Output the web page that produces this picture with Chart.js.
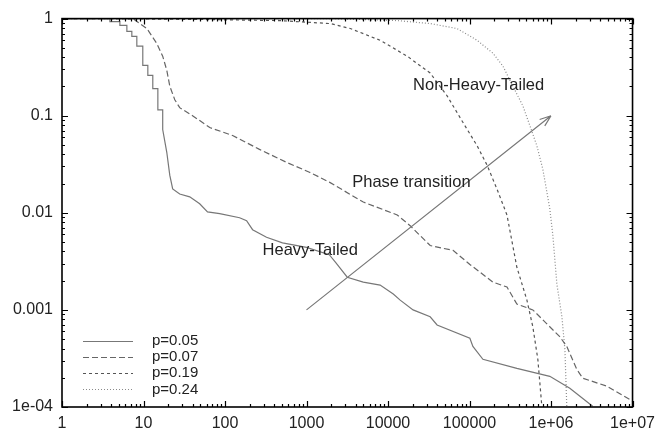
<!DOCTYPE html>
<html>
<head>
<meta charset="utf-8">
<script src="https://cdn.jsdelivr.net/npm/chart.js@4.4.0/dist/chart.umd.min.js"></script>
<style>
  html, body { margin: 0; padding: 0; background: #fff; }
  #wrap { width: 662px; height: 432px; }
</style>
</head>
<body>
<div id="wrap"><canvas id="chart1" width="662" height="432"></canvas></div>
<script>
// tick labels
var xTickValues = [1, 10, 100, 1000, 10000, 100000, 1e6, 1e7];
var xTickLabels = ["1", "10", "100", "1000", "10000", "100000", "1e+06", "1e+07"];
var yTickValues = [1e-4, 0.001, 0.01, 0.1, 1];
var yTickLabels = ["1e-04", "0.001", "0.01", "0.1", "1"];

var seriesNames = ["p=0.05", "p=0.07", "p=0.19", "p=0.24"];

// p=0.05 (staircase at the top)
var p05X = [1, 3.87, 3.87, 5.13, 5.13, 6.25, 6.25, 7.19, 7.19, 8.28, 8.28, 9.8, 9.8, 11.3, 11.3, 13, 13, 15, 15, 17.2, 17.2, 19.3, 21, 22.8, 27.8, 36.9, 48.9, 61, 86, 151, 184, 218, 323, 507, 1000, 1900, 2260, 3160, 4970, 8000, 11600, 14100, 20300, 32900, 40000, 101000, 110000, 146000, 381000, 966000, 1.7e6, 3.24e6];
var p05Y = [1, 1, 0.93, 0.93, 0.85, 0.85, 0.74, 0.74, 0.655, 0.655, 0.52, 0.52, 0.33, 0.33, 0.26, 0.26, 0.19, 0.19, 0.115, 0.115, 0.072, 0.042, 0.0244, 0.0176, 0.0156, 0.0146, 0.0124, 0.0102, 0.0098, 0.0089, 0.0083, 0.0067, 0.0056, 0.0049, 0.0044, 0.0037, 0.0031, 0.00217, 0.00193, 0.0018, 0.00146, 0.00126, 0.001, 0.00085, 0.0007, 0.00051, 0.00042, 0.00031, 0.00025, 0.000207, 0.000156, 0.000102];

// p=0.07
var p07X = [1, 7.4, 11, 14.5, 17.2, 19.3, 21, 24.2, 27.8, 40, 65, 124, 265, 568, 1085, 1905, 4970, 12970, 18700, 32900, 62800, 101000, 194000, 288000, 381000, 598000, 794000, 1.28e6, 1.56e6, 2.07e6, 2.45e6, 4.82e6, 1e7];
var p07Y = [1, 1, 0.79, 0.556, 0.41, 0.294, 0.202, 0.146, 0.121, 0.1, 0.0755, 0.0625, 0.045, 0.0331, 0.0262, 0.0207, 0.0129, 0.0095, 0.00737, 0.0046, 0.0041, 0.00294, 0.00193, 0.00172, 0.00115, 0.001, 0.00079, 0.00053, 0.00042, 0.000244, 0.000198, 0.000164, 0.000115];

// p=0.19
var p19X = [1, 2.9, 49, 466, 1960, 3450, 8030, 17200, 32900, 53100, 83200, 124000, 164000, 217000, 288000, 381000, 506000, 598000, 689000, 771000];
var p19Y = [1, 1, 0.98, 0.954, 0.889, 0.79, 0.597, 0.41, 0.275, 0.16, 0.085, 0.049, 0.031, 0.0176, 0.0095, 0.00275, 0.00126, 0.00067, 0.00031, 0.000102];

// p=0.24
var p24X = [1, 1960, 12970, 32900, 70300, 124000, 194000, 257000, 340000, 452000, 550000, 670000, 794000, 966000, 1.05e6, 1.18e6, 1.36e6, 1.48e6, 1.56e6];
var p24Y = [1, 1, 0.954, 0.889, 0.79, 0.597, 0.44, 0.324, 0.202, 0.126, 0.079, 0.049, 0.028, 0.011, 0.006, 0.00184, 0.00085, 0.00039, 0.000102];

// arrow and labels (data coords)
var arrowFrom = [1000, 0.001];
var arrowTo = [1e6, 0.1];
var noteTexts = ["Non-Heavy-Tailed", "Phase transition", "Heavy-Tailed"];
var noteX = [20300, 3640, 289];
var noteY = [0.207, 0.0207, 0.0041];

function pts(xs, ys) {
    var out = [];
    for (var i = 0; i < xs.length; i++) out.push({x: xs[i], y: ys[i]});
    return out;
}

var lineColors = ["#777777", "#666666", "#555555", "#8a8a8a"];
var lineDashes = [[], [6, 3], [3, 3], [1, 2]];
var allX = [p05X, p07X, p19X, p24X];
var allY = [p05Y, p07Y, p19Y, p24Y];

var datasets = [];
for (var i = 0; i < 4; i++) {
    datasets.push({
        label: seriesNames[i],
        data: pts(allX[i], allY[i]),
        borderColor: lineColors[i],
        borderDash: lineDashes[i],
        borderWidth: 1.2,
        pointRadius: 0,
        showLine: true,
        fill: false,
        tension: 0
    });
}

var FONT = "'Liberation Sans', Arial, sans-serif";

var framePlugin = {
    id: 'frame',
    afterDatasetsDraw: function(chart) {
        var ctx = chart.ctx;
        var a = chart.chartArea;
        var xs = chart.scales.x, ys = chart.scales.y;
        ctx.save();
        ctx.strokeStyle = "#000";
        ctx.lineWidth = 1.6;
        ctx.setLineDash([]);
        ctx.strokeRect(a.left, a.top, a.right - a.left, a.bottom - a.top);

        // ticks inward on all four sides
        ctx.lineWidth = 1.2;
        ctx.beginPath();
        for (var e = 0; e <= 7; e++) {
            for (var m = 1; m <= 9; m++) {
                var v = Math.pow(10, e) * m;
                if (v > 1e7) break;
                var px = Math.round(xs.getPixelForValue(v)) + 0.5;
                var len = (m === 1) ? 6 : 3;
                ctx.moveTo(px, a.bottom); ctx.lineTo(px, a.bottom - len);
                ctx.moveTo(px, a.top); ctx.lineTo(px, a.top + len);
            }
        }
        for (var e2 = -4; e2 <= 0; e2++) {
            for (var m2 = 1; m2 <= 9; m2++) {
                var v2 = Math.pow(10, e2) * m2;
                if (v2 > 1) break;
                var py = Math.round(ys.getPixelForValue(v2)) + 0.5;
                var len2 = (m2 === 1) ? 6 : 3;
                ctx.moveTo(a.left, py); ctx.lineTo(a.left + len2, py);
                ctx.moveTo(a.right, py); ctx.lineTo(a.right - len2, py);
            }
        }
        ctx.stroke();

        // arrow
        var x0 = xs.getPixelForValue(arrowFrom[0]), y0 = ys.getPixelForValue(arrowFrom[1]);
        var x1 = xs.getPixelForValue(arrowTo[0]), y1 = ys.getPixelForValue(arrowTo[1]);
        ctx.strokeStyle = "#777";
        ctx.lineWidth = 1.2;
        ctx.beginPath();
        ctx.moveTo(x0, y0); ctx.lineTo(x1, y1);
        var ang = Math.atan2(y1 - y0, x1 - x0);
        ctx.moveTo(x1, y1);
        ctx.lineTo(x1 - 12 * Math.cos(ang - 0.35), y1 - 12 * Math.sin(ang - 0.35));
        ctx.moveTo(x1, y1);
        ctx.lineTo(x1 - 12 * Math.cos(ang + 0.35), y1 - 12 * Math.sin(ang + 0.35));
        ctx.stroke();

        // labels
        ctx.fillStyle = "#222";
        ctx.font = "16.5px " + FONT;
        ctx.textAlign = "left";
        ctx.textBaseline = "middle";
        for (var k = 0; k < noteTexts.length; k++) {
            ctx.fillText(noteTexts[k], xs.getPixelForValue(noteX[k]), ys.getPixelForValue(noteY[k]));
        }

        // legend
        ctx.font = "15px " + FONT;
        for (var j = 0; j < chart.data.datasets.length; j++) {
            var ds = chart.data.datasets[j];
            var ly = 340.5 + j * 16.3;
            ctx.strokeStyle = ds.borderColor;
            ctx.setLineDash(ds.borderDash);
            ctx.lineWidth = 1.2;
            ctx.beginPath();
            ctx.moveTo(83, Math.round(ly) + 0.5); ctx.lineTo(133, Math.round(ly) + 0.5);
            ctx.stroke();
            ctx.setLineDash([]);
            ctx.fillStyle = "#222";
            ctx.fillText(ds.label, 152, ly);
        }
        ctx.restore();
    }
};

new Chart(document.getElementById("chart1"), {
    type: "scatter",
    data: { datasets: datasets },
    options: {
        responsive: false,
        animation: false,
        layout: { padding: { top: 15, right: 28, left: 0, bottom: 0 } },
        plugins: { legend: { display: false }, tooltip: { enabled: false } },
        scales: {
            x: {
                type: "logarithmic",
                min: 1, max: 1e7,
                grid: { display: false, drawTicks: false },
                border: { display: false },
                afterBuildTicks: function(scale) {
                    scale.ticks = xTickValues.map(function(v) { return {value: v}; });
                },
                afterFit: function(scale) { scale.height = 25; },
                ticks: {
                    padding: 7,
                    color: "#222",
                    font: { family: FONT, size: 16 },
                    maxRotation: 0,
                    autoSkip: false,
                    callback: function(v) {
                        var i = xTickValues.indexOf(v);
                        return i >= 0 ? xTickLabels[i] : "";
                    }
                }
            },
            y: {
                type: "logarithmic",
                min: 1e-4, max: 1,
                grid: { display: false, drawTicks: false },
                border: { display: false },
                afterBuildTicks: function(scale) {
                    scale.ticks = yTickValues.map(function(v) { return {value: v}; });
                },
                afterFit: function(scale) { scale.width = 62; },
                ticks: {
                    padding: 9,
                    color: "#222",
                    font: { family: FONT, size: 16 },
                    autoSkip: false,
                    callback: function(v) {
                        for (var i = 0; i < yTickValues.length; i++) {
                            if (Math.abs(v - yTickValues[i]) / yTickValues[i] < 1e-6) return yTickLabels[i];
                        }
                        return "";
                    }
                }
            }
        }
    },
    plugins: [framePlugin]
});
</script>
</body>
</html>
